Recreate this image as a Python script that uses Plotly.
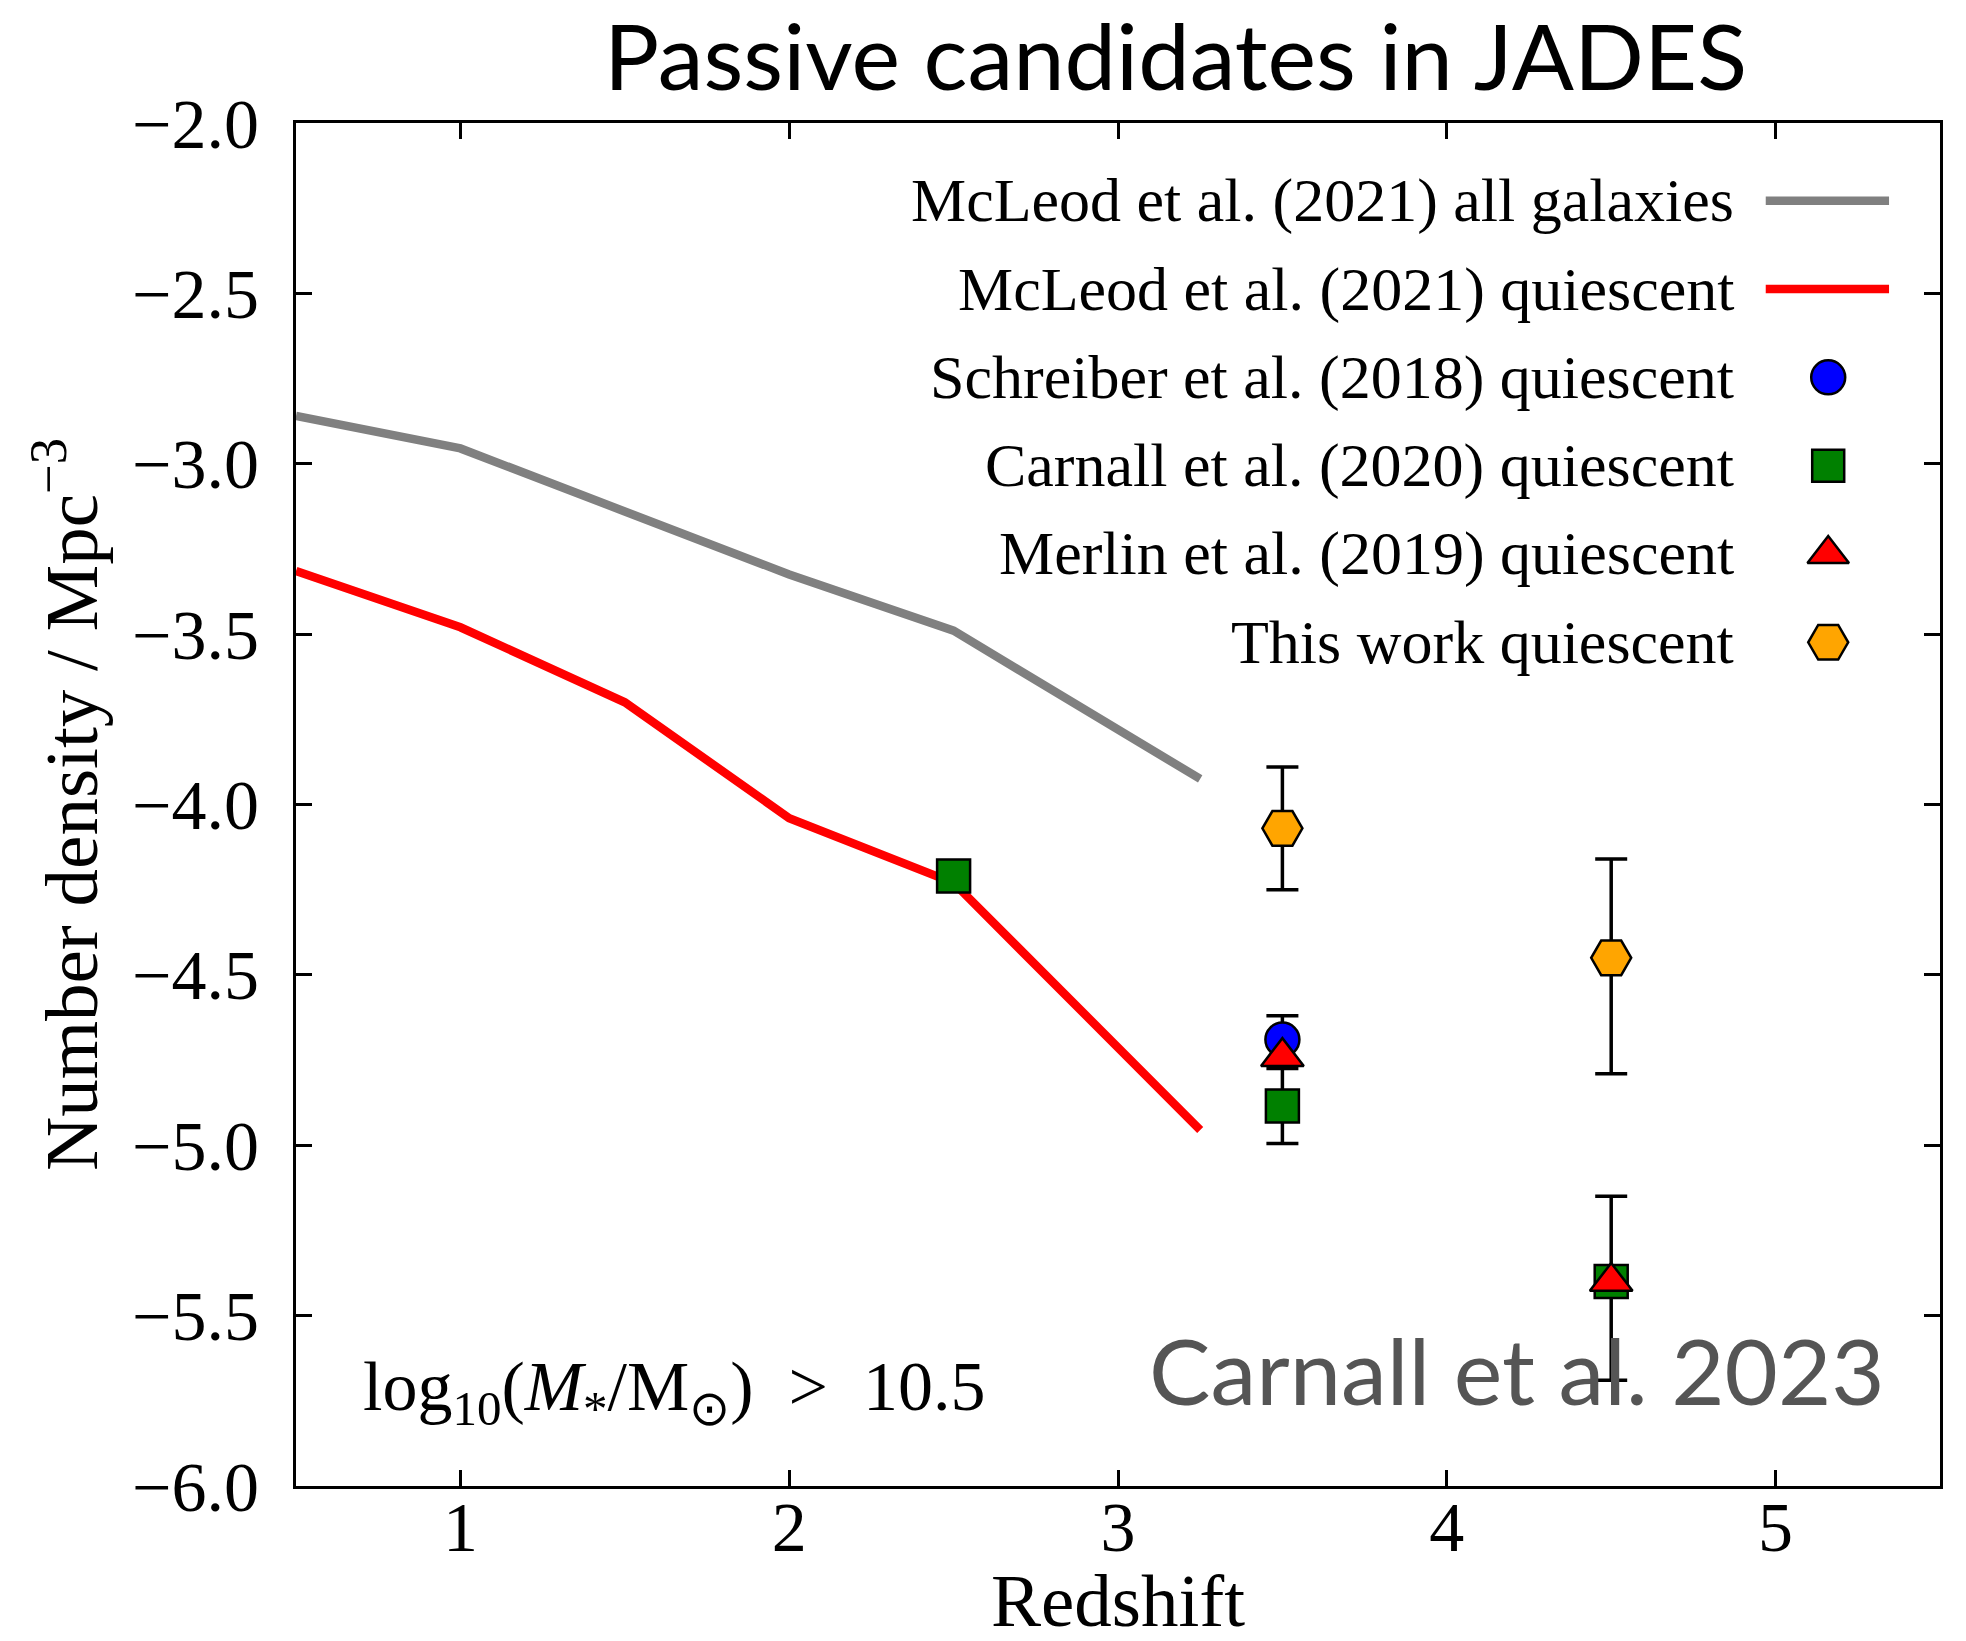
import plotly.graph_objects as go

# ---- data -------------------------------------------------------------
# McLeod et al. (2021) number densities (log10 Mpc^-3) vs redshift
mcleod_z = [0.5, 1.0, 1.5, 2.0, 2.5, 3.25]
mcleod_all = [-2.86, -2.955, -3.14, -3.325, -3.49, -3.925]
mcleod_quiescent = [-3.315, -3.48, -3.70, -4.04, -4.23, -4.955]

# Schreiber et al. (2018) quiescent
schreiber_z = [3.5]
schreiber_n = [-4.69]
schreiber_err = [0.07]

# Carnall et al. (2020) quiescent
carnall20_z = [2.5, 3.5, 4.5]
carnall20_n = [-4.21, -4.885, -5.40]
carnall20_err_hi = [0.0, 0.11, 0.25]
carnall20_err_lo = [0.0, 0.11, 0.29]

# Merlin et al. (2019) quiescent
merlin_z = [3.5, 4.5]
merlin_n = [-4.74, -5.40]

# This work quiescent
thiswork_z = [3.5, 4.5]
thiswork_n = [-4.07, -4.45]
thiswork_err_hi = [0.18, 0.29]
thiswork_err_lo = [0.18, 0.34]

# legend entries (label, colour, kind, symbol)
legend_labels = [
    "McLeod et al. (2021) all galaxies",
    "McLeod et al. (2021) quiescent",
    "Schreiber et al. (2018) quiescent",
    "Carnall et al. (2020) quiescent",
    "Merlin et al. (2019) quiescent",
    "This work quiescent",
]
legend_colors = ["#808080", "#ff0000", "#0000ff", "#008000", "#ff0000", "#ffa500"]
legend_kinds = ["line", "line", "marker", "marker", "marker", "marker"]
legend_symbols = [None, None, "circle", "square", "triangle-up", "hexagon2"]

x_ticks = [1, 2, 3, 4, 5]

SERIF = "Liberation Serif, Times New Roman, serif"
SANS = "Lato, Open Sans, sans-serif"

fig = go.Figure()

# ---- curves -----------------------------------------------------------
fig.add_trace(go.Scatter(x=mcleod_z, y=mcleod_all, mode="lines",
                         line=dict(color="#808080", width=8.5), showlegend=False))
fig.add_trace(go.Scatter(x=mcleod_z, y=mcleod_quiescent, mode="lines",
                         line=dict(color="#ff0000", width=8.5), showlegend=False))

err_style = dict(color="black", thickness=3.5, width=16)
edge = dict(color="black", width=2.5)

fig.add_trace(go.Scatter(
    x=schreiber_z, y=schreiber_n, mode="markers",
    marker=dict(symbol="circle", size=34, color="#0000ff", line=edge),
    error_y=dict(type="data", array=schreiber_err, **err_style),
    showlegend=False))
fig.add_trace(go.Scatter(
    x=carnall20_z, y=carnall20_n, mode="markers",
    marker=dict(symbol="square", size=33, color="#008000", line=edge),
    error_y=dict(type="data", array=carnall20_err_hi, arrayminus=carnall20_err_lo,
                 symmetric=False, **err_style),
    showlegend=False))
fig.add_trace(go.Scatter(
    x=merlin_z, y=merlin_n, mode="markers",
    marker=dict(symbol="triangle-up", size=37, color="#ff0000", line=edge),
    showlegend=False))
fig.add_trace(go.Scatter(
    x=thiswork_z, y=thiswork_n, mode="markers",
    marker=dict(symbol="hexagon2", size=40, color="#ffa500", line=edge),
    error_y=dict(type="data", array=thiswork_err_hi, arrayminus=thiswork_err_lo,
                 symmetric=False, **err_style),
    showlegend=False))

# ---- hand-built legend (text first, key on the right) -----------------
row_top = 0.943
row_step = 0.0648
text_right = 0.876
key_x0, key_x1, key_mid = 0.894, 0.969, 0.932
key_sizes = [None, None, 34, 32, 36, 40]

for i, (lab, col, kind, sym) in enumerate(zip(legend_labels, legend_colors,
                                               legend_kinds, legend_symbols)):
    yy = row_top - i * row_step
    fig.add_annotation(x=text_right, y=yy, xref="paper", yref="paper",
                       text=lab, showarrow=False, xanchor="right", yanchor="middle",
                       font=dict(family=SERIF, size=62, color="black"))
    if kind == "line":
        fig.add_trace(go.Scatter(x=[key_x0, key_x1], y=[yy, yy], mode="lines",
                                 line=dict(color=col, width=8.5),
                                 xaxis="x2", yaxis="y2", showlegend=False,
                                 hoverinfo="skip"))
    else:
        fig.add_trace(go.Scatter(x=[key_mid], y=[yy], mode="markers",
                                 marker=dict(symbol=sym, size=key_sizes[i], color=col,
                                             line=edge),
                                 xaxis="x2", yaxis="y2", showlegend=False,
                                 hoverinfo="skip", cliponaxis=False))

# ---- text labels ------------------------------------------------------
fig.add_annotation(x=0.0395, y=0.069, xref="paper", yref="paper",
                   text="log<sub>10</sub>(<i>M</i><sub>*</sub>/M<sub>⊙</sub>)\u2002>\u200210.5",
                   showarrow=False, xanchor="left", yanchor="middle",
                   font=dict(family=SERIF, size=70, color="black"))
fig.add_annotation(x=0.743, y=0.0858, xref="paper", yref="paper",
                   text="Carnall et al. 2023", showarrow=False,
                   xanchor="center", yanchor="middle",
                   font=dict(family=SANS, size=92, color="#555555"))
# x-axis title, placed below the tick labels
fig.add_annotation(x=0.5, y=-0.052, xref="paper", yref="paper",
                   text="Redshift", showarrow=False,
                   xanchor="center", yanchor="top",
                   font=dict(family=SERIF, size=75, color="black"))

axis_common = dict(
    showline=True, linecolor="black", linewidth=3, mirror="allticks",
    ticks="inside", ticklen=16, tickwidth=2.5, tickcolor="black",
    showgrid=False, zeroline=False, automargin=True,
    tickfont=dict(family=SERIF, size=70, color="black"),
)

fig.update_layout(
    width=1966, height=1641,
    margin=dict(l=296, r=26, t=123, b=155, autoexpand=False),
    paper_bgcolor="white", plot_bgcolor="white",
    title=dict(text="Passive candidates in JADES", x=0.535, xref="paper",
               y=1 - 58 / 1641, yref="container", xanchor="center", yanchor="middle",
               font=dict(family=SANS, size=92, color="black")),
    xaxis=dict(range=[0.5, 5.5], tickvals=x_ticks, ticklabelstandoff=-22,
               **axis_common),
    yaxis=dict(range=[-6, -2], dtick=0.5, tick0=-6, tickformat=".1f",
               ticklabelstandoff=20,
               title=dict(text="Number density / Mpc<sup>−3</sup>", standoff=10,
                          font=dict(family=SERIF, size=75, color="black")),
               **axis_common),
    xaxis2=dict(overlaying="x", range=[0, 1], visible=False),
    yaxis2=dict(overlaying="y", range=[0, 1], visible=False),
    showlegend=False,
)

fig.write_html("out.html")
